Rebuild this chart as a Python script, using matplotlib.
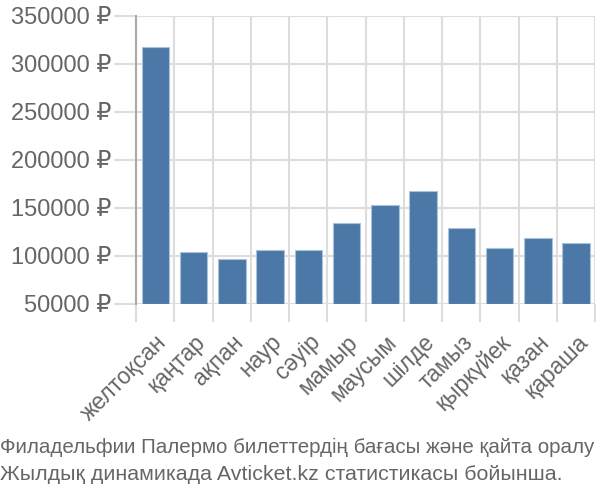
import numpy as np
import matplotlib.pyplot as plt

plt.rcParams['font.family'] = ['Liberation Sans', 'DejaVu Sans']

months = ["желтоқсан", "қаңтар", "ақпан", "наур", "сәуір", "мамыр",
          "маусым", "шілде", "тамыз", "қыркүйек", "қазан", "қараша"]
prices = [318000, 104000, 97000, 106000, 106500, 134000,
          153000, 167500, 129000, 108000, 119000, 113500]
yticks = [50000, 100000, 150000, 200000, 250000, 300000, 350000]
caption_lines = ["Филадельфии Палермо билеттердің бағасы және қайта оралу",
                 "Жылдық динамикада Avticket.kz статистикасы бойынша."]

text_color = "#666666"
grid_color = "#dddddd"

fig = plt.figure(figsize=(6, 5), dpi=100)
ax = fig.add_axes([0.227, 0.392, 0.765, 0.576])

x = np.arange(len(months))
ax.bar(x, [p - yticks[0] for p in prices], bottom=yticks[0], width=0.72,
       color="#4c78a8", edgecolor="#a9c2de", linewidth=0.8, zorder=3)

ax.set_xlim(-0.5, len(months) - 0.5)
ax.set_ylim(yticks[0], yticks[-1])

ax.set_yticks(yticks)
ax.set_yticklabels([f"{v} ₽" for v in yticks])
ax.set_xticks(x)
ax.set_xticklabels(months, rotation=45, ha="right", rotation_mode="anchor")
ax.set_xticks(np.arange(len(months) + 1) - 0.5, minor=True)

ax.tick_params(axis="y", length=16, color=grid_color, width=1.5, pad=2,
               labelsize=17, labelcolor=text_color)
ax.tick_params(axis="x", which="major", length=0, pad=19,
               labelsize=16.5, labelcolor=text_color)
ax.tick_params(axis="x", which="minor", length=13, color=grid_color, width=1.5)

ax.grid(axis="y", color=grid_color, linewidth=1.5, zorder=0)
ax.grid(axis="x", which="minor", color=grid_color, linewidth=1.5, zorder=0)

for s in ["top", "right", "bottom"]:
    ax.spines[s].set_visible(False)
ax.spines["left"].set_color("#aaaaaa")
ax.spines["left"].set_linewidth(1.5)
ax.spines["left"].set_zorder(4)

fig.text(0.0, 1 - 447 / 500, caption_lines[0], fontsize=14.8, color=text_color,
         ha="left", va="center")
fig.text(0.0, 1 - 475 / 500, caption_lines[1], fontsize=15.4, color=text_color,
         ha="left", va="center")

fig.savefig("out.png", dpi=100)
